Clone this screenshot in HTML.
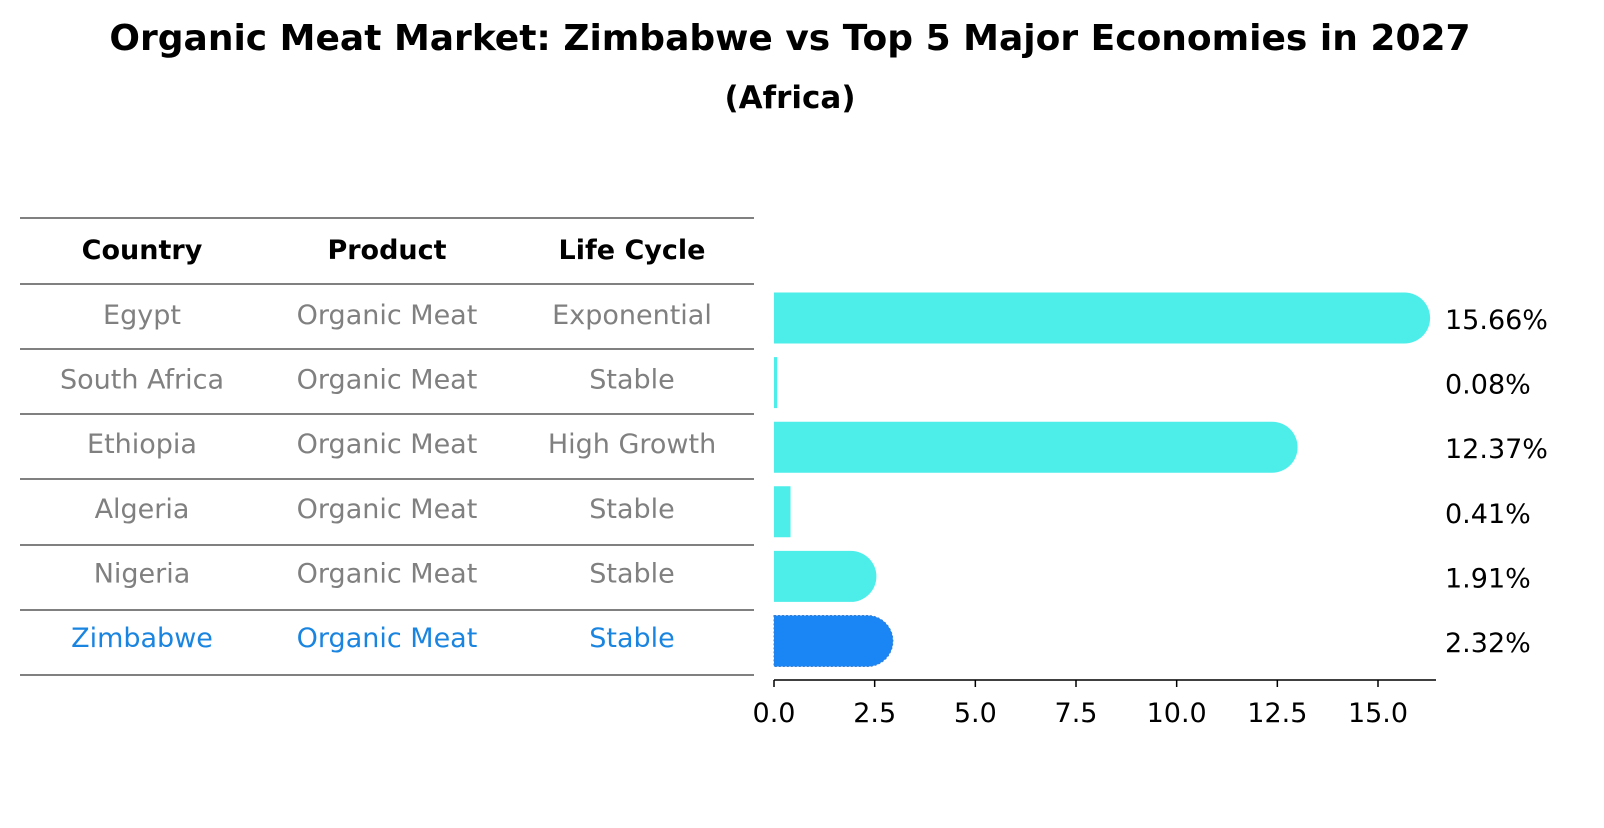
<!DOCTYPE html>
<html><head><meta charset="utf-8"><style>
body{margin:0;background:#fff;font-family:"Liberation Sans","DejaVu Sans",sans-serif}
svg text{font-family:"DejaVu Sans","Liberation Sans",sans-serif}
</style></head><body>
<svg width="1604" height="823" viewBox="0 0 1604 823">
<text x="790" y="50" text-anchor="middle" font-size="36" font-weight="bold">Organic Meat Market: Zimbabwe vs Top 5 Major Economies in 2027</text>
<text x="790" y="108" text-anchor="middle" font-size="31" font-weight="bold">(Africa)</text>
<g id="table"></g>
<g id="bars"></g>
</svg>
<script>
const countries=["Egypt","South Africa","Ethiopia","Algeria","Nigeria","Zimbabwe"];
const products=["Organic Meat","Organic Meat","Organic Meat","Organic Meat","Organic Meat","Organic Meat"];
const lifeCycles=["Exponential","Stable","High Growth","Stable","Stable","Stable"];
const values=[15.66,0.08,12.37,0.41,1.91,2.32];
const ticks=[0,2.5,5,7.5,10,12.5,15];
const NS="http://www.w3.org/2000/svg";
function mk(t,a,p){const e=document.createElementNS(NS,t);for(const k in a)e.setAttribute(k,a[k]);p.appendChild(e);return e;}
const x0=774,sx=604/15;
const xs=v=>x0+v*sx;
const rowY=i=>318+i*64.6;
const tb=document.getElementById('table');
const lines=[218,284,349,414,479,545,610,675];
lines.forEach(y=>{const l=mk('line',{x1:20,x2:754,y1:y,y2:y,stroke:'#000','stroke-width':1},tb);

});
const cols=[142,387,632];
["Country","Product","Life Cycle"].forEach((h,j)=>{const t=mk('text',{x:cols[j],y:259,'text-anchor':'middle','font-size':27,'font-weight':'bold'},tb);t.textContent=h;

});
countries.forEach((c,i)=>{
 const col=i===5?'#1a85e0':'#808080';
 [c,products[i],lifeCycles[i]].forEach((s,j)=>{const t=mk('text',{x:cols[j],y:rowY(i)+6,'text-anchor':'middle','font-size':27,fill:col},tb);t.textContent=s;
 
 });
});
const g=document.getElementById('bars');
const h=51,r=25.5;
values.forEach((v,i)=>{
 const cy=rowY(i),col=i===5?'#1a85f5':'#4deeea';
 const w=xs(v)-x0;
 let d;
 if(v>1){d=`M${x0},${cy-h/2}H${x0+w}A${r},${r} 0 0 1 ${x0+w},${cy+h/2}H${x0}Z`;}
 else d=`M${x0},${cy-h/2}H${x0+Math.max(w,3)}V${cy+h/2}H${x0}Z`;
 const p=mk('path',{d:d,fill:col},g);
 if(i===5){p.setAttribute('stroke','#3a7fd0');p.setAttribute('stroke-dasharray','2,2');}
 
 
 const t=mk('text',{x:1445,y:cy+11,'font-size':27},g);t.textContent=v.toFixed(2)+'%';
 
 
});
const ax=mk('line',{x1:x0,x2:1436,y1:680,y2:680,stroke:'#000','stroke-width':1.5},g);


ticks.forEach(v=>{mk('line',{x1:xs(v),x2:xs(v),y1:680,y2:687,stroke:'#000','stroke-width':1.5},g);
 const t=mk('text',{x:xs(v),y:722,'text-anchor':'middle','font-size':27},g);t.textContent=v.toFixed(1);
 
 });
</script>
</body></html>
